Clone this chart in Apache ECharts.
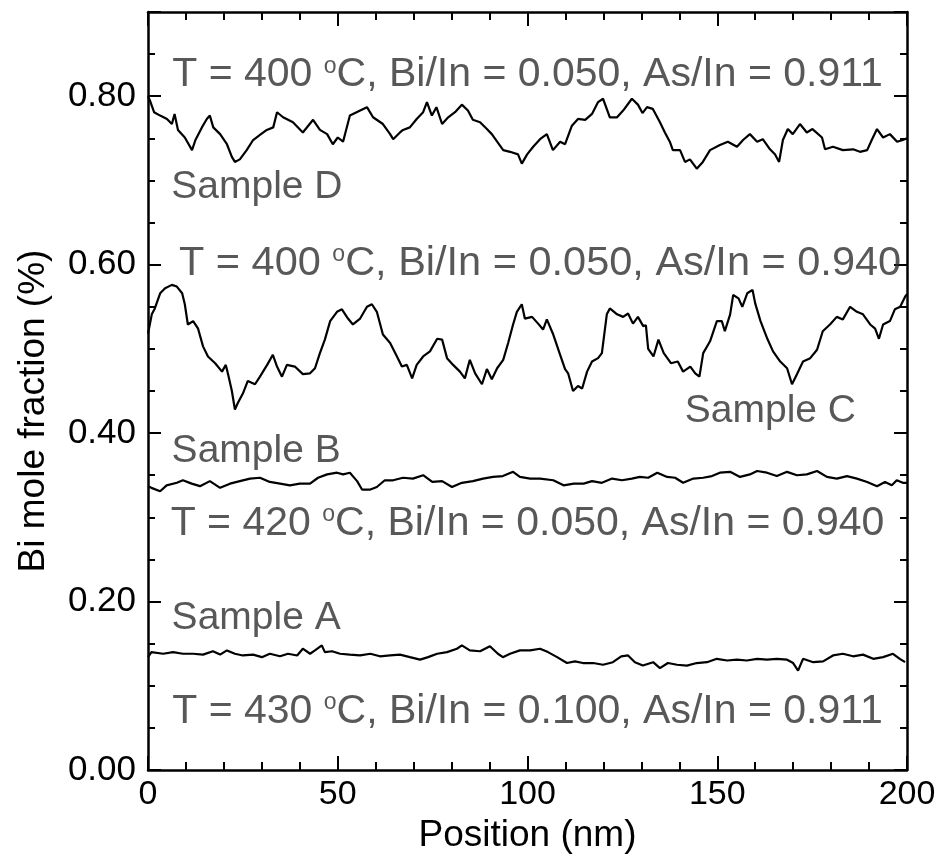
<!DOCTYPE html>
<html>
<head>
<meta charset="utf-8">
<script src="https://cdn.jsdelivr.net/npm/echarts@6/dist/echarts.min.js"></script>
<style>
  html, body { margin: 0; padding: 0; background: #fff; }
  #chart { width: 943px; height: 867px; }
</style>
</head>
<body>
<div id="chart"></div>
<script>
// [position nm, Bi mole fraction %]
const sampleD = [
  [0, 0.800], [0.5, 0.795], [1.6, 0.781], [3.2, 0.777], [5, 0.773], [6.3, 0.767], [7, 0.779], [7.9, 0.760],
  [9.7, 0.751], [11.6, 0.736], [12.5, 0.748], [14.2, 0.763], [15.5, 0.773], [16.3, 0.777], [17.2, 0.763],
  [19, 0.755], [20.8, 0.743], [22.1, 0.728], [22.9, 0.722], [24.2, 0.725], [26, 0.736], [27.7, 0.748],
  [29.5, 0.754], [31.3, 0.760], [33, 0.763], [34, 0.781], [35.6, 0.775], [38.2, 0.769], [40.8, 0.757],
  [43.5, 0.772], [45.3, 0.760], [47.2, 0.755], [48.7, 0.743], [50, 0.751], [51.4, 0.746], [53.2, 0.777],
  [55.9, 0.783], [57.7, 0.787], [59.3, 0.775], [61.9, 0.767], [63.8, 0.755], [64.6, 0.749], [66.4, 0.757],
  [67.2, 0.760], [69, 0.763], [70.8, 0.773], [72.5, 0.781], [73.5, 0.793], [74.8, 0.777], [76, 0.787],
  [77.5, 0.767], [79.1, 0.775], [80.9, 0.781], [82.7, 0.790], [84.3, 0.783], [85.6, 0.772], [87.5, 0.769],
  [89.3, 0.761], [90.6, 0.755], [92, 0.746], [93.6, 0.736], [95.4, 0.734], [97.5, 0.731], [98.5, 0.720],
  [99.9, 0.731], [101.5, 0.740], [103.3, 0.749], [105.1, 0.755], [106.7, 0.736], [108.6, 0.746],
  [109.9, 0.743], [111.7, 0.765], [113.3, 0.773], [115.2, 0.772], [117, 0.779], [118.6, 0.793],
  [119.9, 0.797], [121.7, 0.775], [123.6, 0.775], [125.2, 0.783], [127.5, 0.797], [129.1, 0.790],
  [130.3, 0.780], [131.5, 0.787], [133, 0.785], [134.9, 0.769], [136.2, 0.757], [137.5, 0.746],
  [138.3, 0.736], [140.2, 0.736], [141.5, 0.722], [142.8, 0.725], [144.6, 0.714], [146.2, 0.722],
  [148.1, 0.736], [150.7, 0.742], [152.8, 0.746], [155.2, 0.740], [156.8, 0.748], [158.6, 0.755],
  [160.5, 0.746], [162, 0.749], [163.9, 0.737], [165.2, 0.731], [166.3, 0.722], [167.3, 0.748],
  [168.6, 0.761], [169.9, 0.755], [171.8, 0.767], [173.6, 0.757], [175.1, 0.761], [177.6, 0.751],
  [178.4, 0.737], [180.5, 0.740], [183.1, 0.736], [185.8, 0.737], [187.6, 0.734], [189.5, 0.736],
  [190.8, 0.749], [192.1, 0.761], [193.7, 0.751], [195.5, 0.755], [197.4, 0.746], [198.9, 0.748], [200, 0.750]
];
const sampleC = [
  [0, 0.518], [1, 0.541], [1.8, 0.548], [3.2, 0.566], [4.5, 0.572], [6.3, 0.576], [7.6, 0.574], [9, 0.566],
  [9.7, 0.553], [10.5, 0.529], [11.9, 0.533], [13.2, 0.524], [14.5, 0.503], [15.8, 0.491], [17.7, 0.483],
  [19.5, 0.473], [20.5, 0.481], [21.1, 0.470], [22.1, 0.450], [22.9, 0.428], [23.7, 0.436], [25, 0.447],
  [26.3, 0.462], [28.2, 0.458], [29.5, 0.467], [31.4, 0.481], [32.9, 0.493], [34, 0.479], [35.3, 0.467],
  [36.6, 0.481], [38.7, 0.479], [40.8, 0.470], [42.7, 0.471], [44, 0.477], [45.3, 0.495], [46.6, 0.511],
  [48, 0.533], [49.8, 0.544], [51.1, 0.547], [52.7, 0.536], [54, 0.529], [55.9, 0.536], [57.7, 0.550],
  [59, 0.553], [60.3, 0.544], [61.9, 0.517], [63.8, 0.507], [65.6, 0.491], [66.9, 0.479], [68.2, 0.481],
  [69.6, 0.465], [70.8, 0.481], [72.5, 0.491], [74.3, 0.497], [76.2, 0.512], [77.5, 0.511], [78.8, 0.489],
  [80.4, 0.481], [82.2, 0.473], [83.5, 0.465], [84.8, 0.487], [86.2, 0.471], [88, 0.458], [89.3, 0.476],
  [90.6, 0.464], [92, 0.477], [93.6, 0.487], [94.9, 0.507], [96.2, 0.529], [97.2, 0.544], [98.5, 0.553],
  [99.3, 0.536], [101.2, 0.538], [102.8, 0.530], [104.1, 0.523], [105.1, 0.535], [106.7, 0.518],
  [108.6, 0.493], [109.9, 0.476], [110.7, 0.471], [112, 0.450], [113.3, 0.456], [114.4, 0.453],
  [115.7, 0.473], [117, 0.485], [118.6, 0.489], [119.6, 0.495], [120.9, 0.541], [121.7, 0.548],
  [123.6, 0.541], [125.2, 0.538], [126.5, 0.542], [127.8, 0.530], [129.1, 0.538], [130.5, 0.527],
  [131.2, 0.528], [131.8, 0.500], [133.2, 0.491], [134.5, 0.511], [135.9, 0.495], [137.8, 0.483],
  [139.6, 0.485], [141, 0.473], [142.9, 0.479], [144.2, 0.471], [145.3, 0.467], [146.3, 0.495],
  [148.1, 0.509], [149.9, 0.533], [151.2, 0.533], [152, 0.521], [153.4, 0.541], [154.2, 0.564],
  [155.6, 0.560], [156.6, 0.550], [157.9, 0.566], [159.3, 0.570], [160, 0.554], [161.4, 0.533],
  [163.2, 0.512], [164.7, 0.497], [166.6, 0.485], [168.4, 0.477], [169.7, 0.458], [171, 0.470],
  [172.6, 0.485], [174.5, 0.489], [176.3, 0.499], [177.8, 0.521], [179.7, 0.529], [181.5, 0.538],
  [183.1, 0.535], [185, 0.550], [186.8, 0.544], [188.4, 0.541], [190.3, 0.529], [191.6, 0.524],
  [192.6, 0.512], [193.7, 0.529], [195.5, 0.533], [196.8, 0.547], [198.2, 0.550], [199.5, 0.562], [200, 0.565]
];
const sampleB = [
  [0, 0.337], [0.9, 0.335], [3.2, 0.331], [4.9, 0.338], [7.6, 0.341], [9.2, 0.344], [11.5, 0.340],
  [13.7, 0.337], [16.3, 0.343], [19, 0.335], [21.6, 0.340], [24.2, 0.343], [26.9, 0.346], [29.5, 0.347],
  [32.1, 0.342], [34.8, 0.340], [37.4, 0.338], [40, 0.340], [42.7, 0.340], [44.8, 0.347], [47.2, 0.351],
  [49.8, 0.353], [51.4, 0.351], [53.2, 0.353], [55.1, 0.343], [56.4, 0.333], [58.6, 0.333], [60.3, 0.336],
  [62.4, 0.344], [64.6, 0.344], [67.2, 0.347], [69.8, 0.346], [72.5, 0.350], [74.9, 0.342], [77.5, 0.343],
  [80.1, 0.336], [82.7, 0.341], [85.6, 0.343], [88.3, 0.346], [90.9, 0.348], [93.5, 0.349], [96.2, 0.354],
  [98, 0.348], [100.7, 0.346], [103.3, 0.346], [106.8, 0.344], [109.5, 0.338], [112.2, 0.340],
  [114.8, 0.340], [117, 0.343], [119.6, 0.341], [122.3, 0.346], [124.9, 0.344], [127.5, 0.346],
  [129.6, 0.348], [131.8, 0.347], [134.2, 0.353], [136.8, 0.348], [138.9, 0.347], [141, 0.341],
  [143.7, 0.346], [146.3, 0.347], [148.6, 0.349], [150.7, 0.353], [153.4, 0.354], [156, 0.348],
  [158.6, 0.351], [160.5, 0.355], [163.1, 0.353], [165.7, 0.349], [168.4, 0.354], [171, 0.350],
  [173.6, 0.351], [176.3, 0.355], [178.9, 0.348], [181.5, 0.346], [184.2, 0.349], [186.8, 0.346],
  [189.5, 0.342], [192.1, 0.337], [194.2, 0.342], [196, 0.338], [197.3, 0.344], [198.9, 0.341], [200, 0.341]
];
const sampleA = [
  [0, 0.134], [0.9, 0.140], [4, 0.138], [6.6, 0.140], [9.2, 0.138], [11.9, 0.138], [14.5, 0.137],
  [17.1, 0.141], [19, 0.137], [20.8, 0.142], [22.9, 0.138], [25, 0.136], [27.7, 0.137], [30, 0.134],
  [32.1, 0.138], [34.8, 0.135], [36.9, 0.138], [39.3, 0.136], [40.8, 0.144], [42.7, 0.138], [44, 0.142],
  [45.8, 0.148], [46.6, 0.140], [48.5, 0.141], [50.6, 0.138], [53.2, 0.137], [55.9, 0.136], [58.6, 0.138],
  [61.1, 0.135], [63.8, 0.136], [66.4, 0.137], [69, 0.134], [71.7, 0.131], [73.8, 0.134], [76.2, 0.138],
  [78.8, 0.140], [81.4, 0.144], [82.7, 0.148], [84.8, 0.142], [87.5, 0.141], [90.1, 0.147], [92.2, 0.138],
  [93.5, 0.134], [95.4, 0.138], [98, 0.142], [100.7, 0.142], [103.3, 0.144], [105.4, 0.140], [107.8, 0.134],
  [110.4, 0.127], [112.5, 0.129], [114.6, 0.127], [117.3, 0.127], [119.9, 0.125], [122.5, 0.128],
  [124.7, 0.135], [126.5, 0.136], [128.3, 0.128], [130.4, 0.124], [133.1, 0.128], [134.9, 0.121],
  [137, 0.127], [139.4, 0.125], [142, 0.124], [144.6, 0.127], [147.3, 0.128], [149.9, 0.132],
  [152.6, 0.130], [155.2, 0.131], [157.8, 0.130], [160.5, 0.132], [163.1, 0.131], [165.7, 0.132],
  [168.4, 0.131], [170, 0.127], [171.3, 0.118], [172.6, 0.132], [175.3, 0.128], [177.9, 0.129],
  [180.5, 0.136], [183.1, 0.138], [185.8, 0.135], [188.4, 0.137], [191.1, 0.132], [193.7, 0.134],
  [196.3, 0.138], [198.1, 0.132], [199.5, 0.128]
];

// text labels inside the plot: [x, y, text, font size]
const notes = [
  [100, 0.825, 'T = 400 {s|o}C, Bi/In = 0.050, As/In = 0.911', 41],
  [28.7, 0.692, 'Sample D', 39],
  [103.3, 0.601, 'T = 400 {s|o}C, Bi/In = 0.050, As/In = 0.940', 41.5],
  [164, 0.426, 'Sample C', 39],
  [28.5, 0.379, 'Sample B', 39],
  [100, 0.293, 'T = 420 {s|o}C, Bi/In = 0.050, As/In = 0.940', 41],
  [28.5, 0.180, 'Sample A', 39],
  [100, 0.069, 'T = 430 {s|o}C, Bi/In = 0.100, As/In = 0.911', 41]
];

const chart = echarts.init(document.getElementById('chart'));

const font = 'Liberation Sans, Arial, sans-serif';
const frameLine = { show: true, onZero: false, lineStyle: { color: '#000', width: 2.5 } };
const tickX = { inside: true, length: 14, lineStyle: { color: '#000', width: 2 } };
const minorX = { show: true, splitNumber: 5, length: 8, lineStyle: { color: '#000', width: 2 } };
const tickY = { inside: true, length: 13, lineStyle: { color: '#000', width: 2 } };
const minorY = { show: true, splitNumber: 4, length: 7, lineStyle: { color: '#000', width: 2 } };

function lineSeries(name, data) {
  return {
    name: name,
    type: 'line',
    data: data,
    symbol: 'none',
    smooth: false,
    lineStyle: { color: '#000', width: 2.2 },
    silent: true,
  };
}

const option = {
  backgroundColor: '#fff',
  animation: false,
  grid: { left: 148, right: 36, top: 12, bottom: 97 },
  xAxis: [
    {
      type: 'value',
      position: 'bottom',
      min: 0,
      max: 200,
      interval: 50,
      name: 'Position (nm)',
      nameLocation: 'middle',
      nameGap: 45,
      nameTextStyle: { fontFamily: font, fontSize: 37, color: '#000' },
      axisLine: frameLine,
      axisTick: tickX,
      minorTick: minorX,
      axisLabel: { fontFamily: font, fontSize: 34, color: '#000', margin: 8 },
      splitLine: { show: false },
    },
    {
      type: 'value',
      position: 'top',
      min: 0,
      max: 200,
      interval: 50,
      axisLine: frameLine,
      axisTick: tickX,
      minorTick: minorX,
      axisLabel: { show: false },
      splitLine: { show: false },
    },
  ],
  yAxis: [
    {
      type: 'value',
      position: 'left',
      min: 0,
      max: 0.9,
      interval: 0.2,
      name: 'Bi mole fraction (%)',
      nameLocation: 'middle',
      nameGap: 96,
      nameTextStyle: { fontFamily: font, fontSize: 37, color: '#000', padding: [0, 40, 0, 0] },
      axisLine: frameLine,
      axisTick: tickY,
      minorTick: minorY,
      axisLabel: {
        fontFamily: font, fontSize: 35, color: '#000', margin: 12,
        formatter: function (v) { return v.toFixed(2); },
        showMaxLabel: false,
      },
      splitLine: { show: false },
    },
    {
      type: 'value',
      position: 'right',
      min: 0,
      max: 0.9,
      interval: 0.2,
      axisLine: frameLine,
      axisTick: tickY,
      minorTick: minorY,
      axisLabel: { show: false },
      splitLine: { show: false },
    },
  ],
  series: [
    lineSeries('Sample D', sampleD),
    lineSeries('Sample C', sampleC),
    lineSeries('Sample B', sampleB),
    lineSeries('Sample A', sampleA),
    {
      // annotations placed by the chart's own scales
      type: 'scatter',
      data: notes.map(function (n) {
        return { value: [n[0], n[1]], name: n[2], label: { fontSize: n[3] } };
      }),
      symbolSize: 1,
      itemStyle: { color: 'transparent' },
      silent: true,
      label: {
        show: true,
        position: 'inside',
        formatter: function (p) { return p.name; },
        fontFamily: font,
        color: '#2e2e2e',
        rich: {
          s: { fontFamily: font, fontSize: 23, color: '#2e2e2e', verticalAlign: 'top', padding: [0, 0, 15, 0] },
        },
      },
    },
  ],
};

chart.setOption(option);
</script>
</body>
</html>
